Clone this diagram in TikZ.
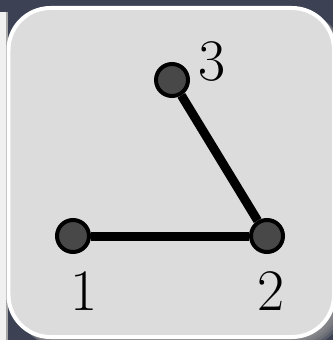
\documentclass[tikz,border=0pt]{standalone}
\usetikzlibrary{positioning}
\definecolor{deskslate}{HTML}{3C4153}
\definecolor{cardfill}{HTML}{DCDCDC}
\definecolor{vertfill}{HTML}{484848}
\definecolor{stripfill}{HTML}{F0F0F0}
\definecolor{shadowgray}{HTML}{9A9A9A}
\pgfdeclarelayer{backdrop}
\pgfdeclarelayer{edges}
\pgfsetlayers{backdrop,edges,main}

\begin{document}
\begin{tikzpicture}[
    x=0.02cm, y=-0.02cm,
    card/.style={draw=white, fill=cardfill, line width=0.08cm, rounded corners=0.84cm},
    vert/.style={circle, draw=black, fill=vertfill, line width=0.08cm, minimum size=0.64cm, inner sep=0pt},
    edge/.style={draw=black, line width=0.18cm},
    num/.style={inner sep=0pt, font=\fontsize{33.5}{40}\selectfont}
]
    \useasboundingbox (0,0) rectangle (333,340);

    \begin{pgfonlayer}{backdrop}
        \clip (0,0) rectangle (333,340);
        \fill[deskslate] (0,0) rectangle (333,340);
        \fill[stripfill] (0,12) rectangle (6,340);
        \fill[gray!70] (6,12) rectangle (8,340);
        % soft shadow of the card
        \foreach \s in {2,4,...,10}
            \fill[shadowgray, opacity=0.3, rounded corners=0.84cm] (8.5+\s,8+0.6*\s) rectangle (334+\s,337+\s);
        \draw[card] (8.5,8) rectangle (334,337);
    \end{pgfonlayer}

    \node[vert] (n1) at (73,236) {};
    \node[vert] (n2) at (267,236) {};
    \node[vert] (n3) at (172,80) {};

    \node[num] (l1) at (84,291) {1};
    \node[num] (l2) at (271,291) {2};
    \node[num] (l3) at (212,62) {3};

    \begin{pgfonlayer}{edges}
        \draw[edge] (n1) -- (n2);
        \draw[edge] (n2) -- (n3);
    \end{pgfonlayer}
\end{tikzpicture}
\end{document}
